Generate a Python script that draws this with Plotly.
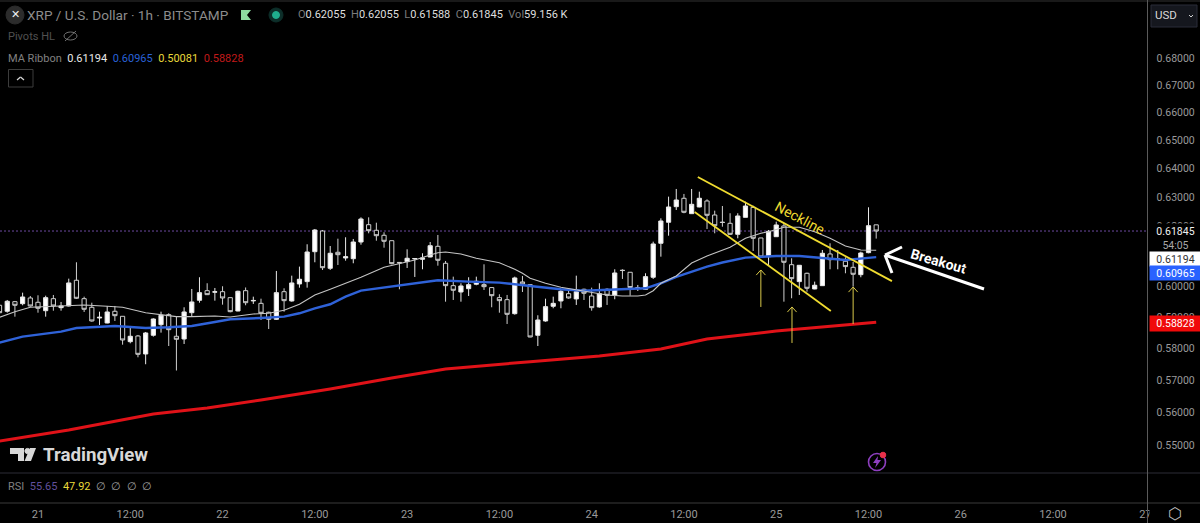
import plotly.graph_objects as go

W = 1200
H = 523

# hours since the 21st 00:00
hours = list(range(-5, 110))
opens = [
    .59378, .59183, .59495, .59430, .59616, .59475, .59202, .59593, .59300, .59355,
    .60198, .59593, .59313, .58966, .58804, .59183, .59020, .58205, .58387, .57813,
    .58409, .58750, .59073, .58377, .58291, .59137, .59541, .59855, .59805, .59822,
    .59626, .59192, .59855, .59520, .59441, .59150, .58923, .59822, .59518, .60076,
    .60153, .61148, .61846, .60594, .61128, .60938, .60914, .61474, .62060, .61870,
    .61701, .61518, .60790, .60815, .60905, .60894, .60971, .61329, .60761, .60020,
    .59812, .59921, .60066, .60053, .59957, .59626, .59561, .59105, .60142, .60053,
    .58409, .58869, .59345, .59518, .59757, .59584, .59901, .59681, .59323, .59901,
    .59714, .60530, .60462, .59938, .59901, .60297, .61431, .62142, .62676, .62965,
    .62436, .62666, .62872, .62391, .62147, .62107, .61734, .62311, .62655, .61610,
    .60981, .61653, .62016, .60714, .60153, .60429, .59911, .60020, .61072, .60890,
    .60828, .60627, .60383, .61115, .62055,
]
highs = [
    .59421, .59551, .59518, .59790, .59681, .59704, .59691, .59714, .59486, .60251,
    .60794, .59659, .59462, .59170, .59355, .59355, .59020, .58708, .58419, .58515,
    .58955, .59170, .59118, .59008, .59313, .59911, .60297, .60099, .59944, .60000,
    .59626, .59855, .59960, .59659, .59593, .59170, .60505, .59933, .60350, .60650,
    .61397, .61914, .61880, .61339, .61586, .61633, .61576, .62311, .62311, .62128,
    .61802, .61518, .60794, .61228, .60930, .61095, .61474, .61711, .60838, .60317,
    .60099, .60297, .60317, .60727, .59957, .59737, .59714, .60317, .60340, .60053,
    .59053, .59593, .59659, .59901, .59901, .60350, .59921, .59954, .60099, .59934,
    .60561, .60561, .60462, .60043, .60429, .61485, .62277, .63022, .63287, .63115,
    .63287, .63194, .62930, .62539, .62699, .62450, .62450, .62848, .62710, .61610,
    .61880, .62163, .62107, .60928, .60704, .60449, .60153, .61205, .61431, .61205,
    .60961, .60804, .61148, .62655, .62055,
]
lows = [
    .59095, .59137, .59008, .59378, .59333, .59137, .59008, .59202, .59202, .59340,
    .59584, .59160, .58846, .58740, .58794, .58869, .58109, .58153, .57708, .57489,
    .58366, .58494, .58067, .57292, .58131, .59008, .59462, .59714, .59528, .59398,
    .59150, .59182, .59378, .59421, .58901, .58611, .58901, .59170, .59495, .59954,
    .59954, .60794, .60538, .60538, .60704, .60848, .60761, .61383, .61768, .61518,
    .61282, .60727, .59901, .60604, .60307, .60561, .60961, .60681, .59495, .59551,
    .59495, .59681, .60033, .59878, .59313, .59137, .58772, .59073, .59812, .58345,
    .58067, .58846, .59280, .59280, .59593, .59388, .59551, .59202, .59300, .59388,
    .59574, .60241, .59691, .59845, .59878, .60241, .60981, .61687, .62563, .62450,
    .62436, .62655, .61914, .61768, .61992, .61711, .61599, .62311, .61171, .60948,
    .60704, .61653, .59495, .59606, .59714, .59822, .59901, .60010, .60561, .60561,
    .60429, .59987, .60297, .61095, .61588,
]
closes = [
    .59137, .59508, .59378, .59649, .59355, .59280, .59626, .59355, .59355, .60109,
    .59606, .59248, .58869, .58988, .59160, .59040, .58259, .58377, .57803, .58483,
    .58933, .59053, .58589, .58281, .59160, .59486, .59790, .59724, .59820, .59616,
    .59170, .59835, .59462, .59535, .59118, .58923, .59790, .59528, .60109, .60231,
    .61138, .61880, .60614, .61095, .61048, .60981, .61474, .62254, .61856, .61687,
    .61498, .60748, .60775, .60928, .60920, .60938, .61349, .60861, .60020, .59868,
    .60010, .60053, .60165, .59987, .59691, .59528, .59085, .60274, .60076, .58355,
    .58901, .59333, .59441, .59835, .59616, .59822, .59770, .59300, .59757, .59704,
    .60439, .60520, .59957, .59950, .60317, .61407, .62186, .62666, .62906, .62484,
    .62757, .62965, .62381, .62026, .62135, .61734, .62357, .62699, .61599, .60971,
    .61836, .62050, .60794, .60251, .60694, .59934, .60033, .61095, .60881, .60905,
    .60650, .60396, .61105, .62026, .61845,
]

white_h = [-5, -3, -1, 0, 3, 6, 9, 11, 14, 16, 18, 20, 23, 25, 28, 30, 32, 34, 36, 38, 40, 42, 45, 47, 49, 51, 52, 53,
           55, 57, 60, 62, 63, 64, 66, 68, 70, 72, 74, 76, 78, 79, 80, 81, 83, 85, 87, 90, 92, 94, 95, 97, 99, 101,
           103, 105, 107, 109]
white_ma = [.58988, .59170, .59313, .59323, .59355, .59388, .59345, .59313, .59137, .59063, .59008, .59008, .59030,
            .58998, .59095, .59118, .59215, .59411, .59714, .59901, .60099, .60297, .60627, .60761, .60871, .61038,
            .61115, .61138, .61072, .60928, .60781, .60561, .60429, .60264, .60099, .59967, .59878, .59790, .59714,
            .59681, .59681, .59714, .59855, .60099, .60340, .60771, .61005, .61296, .61599, .61768, .61822, .61972,
            .61972, .61822, .61599, .61339, .61205, .61194]
blue_h = [-5, -2, 3, 5, 10, 14, 17, 20, 23, 25, 29, 32, 34, 36, 38, 40, 42, 45, 49, 52, 56, 60, 64, 68, 71, 75, 79,
          81, 83, 87, 89, 92, 96, 99, 102, 105, 109]
blue_ma = [.58172, .58366, .58526, .58643, .58708, .58643, .58665, .58708, .58837, .58923, .58966, .59008, .59118,
           .59280, .59411, .59659, .59855, .59954, .60076, .60198, .60153, .60120, .60010, .59901, .59855, .59901,
           .59934, .60099, .60307, .60650, .60787, .60948, .61005, .61005, .60928, .60871, .60965]
red_h = [-5, 4, 15, 22, 29, 38, 46, 53, 64, 73, 81, 87, 96, 109]
red_ma = [.55121, .55454, .55943, .56127, .56374, .56714, .57058, .57340, .57571, .57752, .57972, .58292, .58545,
          .58828]

last_price = 0.61845
price_ticks = [.55, .56, .57, .58, .59, .60, .62, .63, .64, .65, .66, .67, .68]
time_ticks = [0, 12, 24, 36, 48, 60, 72, 84, 96, 108, 120, 132, 144]
time_labels = ["21", "12:00", "22", "12:00", "23", "12:00", "24", "12:00", "25", "12:00", "26", "12:00", "27"]

# hand drawn lines on the chart, in hours and price
neck_h = [85.8, 111.05]
neck_p = [.63706, .60170]
lower_h = [85.4, 103.1]
lower_p = [.62494, .59191]
arrow_h = [94.0, 98.05, 106.0]
arrow_low = [.59323, .58163, .58772]
arrow_tip = [.60538, .59323, .59976]

BG = "#000000"
GREY = "#9a9a9a"
FONT = "Roboto"


def px(x):
    return x / W


def py(y):
    return (H - y) / H


fig = go.Figure()

fig.add_trace(go.Scatter(x=red_h, y=red_ma, mode="lines", line=dict(color="#e01218", width=3)))
fig.add_trace(go.Scatter(x=blue_h, y=blue_ma, mode="lines", line=dict(color="#2f62d8", width=2.4)))
fig.add_trace(go.Scatter(x=white_h, y=white_ma, mode="lines", line=dict(color="#c4c4c4", width=1.1)))

fig.add_trace(go.Candlestick(
    x=hours, open=opens, high=highs, low=lows, close=closes, whiskerwidth=0,
    increasing=dict(line=dict(color="#e8e8e8", width=1), fillcolor="#ffffff"),
    decreasing=dict(line=dict(color="#d0d0d0", width=1), fillcolor="#000000"),
))

# trend channel
for xs, ys in ((neck_h, neck_p), (lower_h, lower_p)):
    fig.add_trace(go.Scatter(x=xs, y=ys, mode="lines", line=dict(color="#f0dc30", width=1.8)))

# the three thin arrows under the channel
ax, ay = [], []
for h, lo, tip in zip(arrow_h, arrow_low, arrow_tip):
    ax += [h, h, None, h - 0.6, h, h + 0.6, None]
    ay += [lo, tip, None, tip * 0.9972, tip, tip * 0.9972, None]
fig.add_trace(go.Scatter(x=ax, y=ay, mode="lines", line=dict(color="#d8c84a", width=1)))

shapes = []


def hline(y, color, x0=0, x1=W):
    shapes.append(dict(type="line", xref="paper", yref="paper", x0=px(x0), x1=px(x1), y0=py(y), y1=py(y),
                       line=dict(color=color, width=1), layer="above"))


def vline(x, color, y0=0, y1=H):
    shapes.append(dict(type="line", xref="paper", yref="paper", x0=px(x), x1=px(x), y0=py(y0), y1=py(y1),
                       line=dict(color=color, width=1), layer="above"))


def seg(x0, y0, x1, y1, color, width):
    shapes.append(dict(type="line", xref="paper", yref="paper", x0=px(x0), x1=px(x1), y0=py(y0), y1=py(y1),
                       line=dict(color=color, width=width), layer="above"))


def circle(cx, cy, r, fill, edge=None, width=1):
    shapes.append(dict(type="circle", xref="paper", yref="paper", x0=px(cx - r), x1=px(cx + r),
                       y0=py(cy - r), y1=py(cy + r), fillcolor=fill,
                       line=dict(color=edge or fill, width=width), layer="above"))


def poly(points, fill):
    d = "M" + " L".join(f"{px(a):.5f},{py(b):.5f}" for a, b in points) + " Z"
    shapes.append(dict(type="path", xref="paper", yref="paper", path=d, fillcolor=fill,
                       line=dict(color=fill, width=0), layer="above"))


shapes.append(dict(type="line", xref="paper", yref="y", x0=0, x1=px(1147), y0=last_price, y1=last_price,
                   line=dict(color="#6d4aa0", width=1, dash="2px,2px"), layer="below"))

hline(1, "#333333")
hline(473, "#2c2c36")
hline(503, "#3a3a3a")
vline(1147.5, "#5a5a5a")

# Breakout arrow
seg(984, 289, 885, 255, "#ffffff", 3)
seg(902, 247, 885, 255, "#ffffff", 3)
seg(892, 273, 885, 255, "#ffffff", 3)

# title row icons
circle(15, 15, 9, "#2c2c2c")
poly([(241, 10), (251, 10), (247, 15), (251, 20), (241, 20)], "#8edba0")
circle(276, 15, 7, "#0d2f2a")
circle(276, 15, 3.5, "#1fae8e")

# eye with a slash
shapes.append(dict(type="circle", xref="paper", yref="paper", x0=px(64), x1=px(77), y0=py(32), y1=py(40),
                   line=dict(color="#707070", width=1), layer="above"))
seg(65, 41, 76, 31, "#707070", 1)

# collapse button
shapes.append(dict(type="rect", xref="paper", yref="paper", x0=px(8.5), x1=px(33), y0=py(69.5), y1=py(87),
                   line=dict(color="#3c3c3c", width=1), layer="above"))
seg(17, 80, 20.5, 77, "#d8d8d8", 1.2)
seg(24, 80, 20.5, 77, "#d8d8d8", 1.2)

# currency button
shapes.append(dict(type="rect", xref="paper", yref="paper", x0=px(1151), x1=px(1197), y0=py(5), y1=py(27),
                   fillcolor="#15171e", line=dict(color="#2a2d38", width=1), layer="above"))
seg(1189, 15, 1191, 17, "#d0d0d0", 1)
seg(1193, 15, 1191, 17, "#d0d0d0", 1)

# TradingView logo
poly([(10, 448), (24, 448), (24, 461), (18, 461), (18, 454), (10, 454)], "#d8d8d8")
circle(27.5, 451, 2.6, "#d8d8d8")
poly([(30, 448), (36, 448), (31, 461), (24.5, 461)], "#d8d8d8")

# alert icon
circle(877, 462, 8.5, "#000000", "#8e3fc0", 1.6)
poly([(878, 456), (873, 463), (876.5, 463), (875, 468), (881, 460), (877.5, 460)], "#8e3fc0")
circle(883, 455, 2.8, "#e8304a")

annotations = []


def label(x, y, text, color=GREY, size=12, anchor="left", **kw):
    annotations.append(dict(xref="paper", yref="paper", x=px(x), y=py(y), text=text, showarrow=False,
                            xanchor=anchor, yanchor="middle", font=dict(family=FONT, size=size, color=color),
                            **kw))


def tag(y, text, bg, color, height=14):
    label(1148.5, y, text, color=color, size=10.5, bgcolor=bg, width=51, height=height, align="center",
          borderpad=0)


def c(color, text):
    return f'<span style="color:{color}">{text}</span>'


label(15, 15, "✕", color="#f0f0f0", size=11, anchor="center")
label(25, 15, "XRP / U.S. Dollar · 1h · BITSTAMP", color="#8c8c8c", size=13.6)
num = "#dedede"
label(296, 15, "O" + c(num, "0.62055") + "  H" + c(num, "0.62055") + "  L" + c(num, "0.61588") + "  C"
      + c(num, "0.61845") + "  Vol" + c(num, "59.156 K"), color="#7c7c7c", size=11)
label(6, 36, "Pivots HL", color="#505050", size=11)
label(6, 58, "MA Ribbon  " + c("#e8e8e8", "0.61194") + "  " + c("#2962d8", "0.60965") + "  "
      + c("#e8d83a", "0.50081") + "  " + c("#c01a1a", "0.58828"), color="#808080", size=11)
label(41, 455, "<b>TradingView</b>", color="#d8d8d8", size=18.7)
label(6, 487, "RSI  " + c("#62509c", "55.65") + "  " + c("#e8d83a", "47.92") + "  " + c("#a0a0a0", "∅  ∅  ∅  ∅"),
      color="#808080", size=11)
label(800, 218, "Neckline", color="#f0dc30", size=14, anchor="center", textangle=28)
label(938, 261, "<b>Breakout</b>", color="#ffffff", size=14, anchor="center", textangle=16)

# price axis tags sit on top of the tick labels
tag(231, "0.61845", BG, "#f0f0f0")
tag(245, "54:05", BG, "#a8a8a8")
tag(259, "0.61194", "#ffffff", "#333333")
tag(273, "0.60965", "#2962ff", "#ffffff")
tag(323, "0.58828", "#f00a0a", "#ffffff", height=15)
label(1148.5, 513.5, " ", bgcolor=BG, width=51, height=18, borderpad=0)
label(1175, 513.5, "⬡", color="#c0c0c0", size=16, anchor="center")
label(1153, 15, "USD", color="#d8d8d8", size=11.5)

fig.update_layout(
    width=W, height=H, margin=dict(l=0, r=0, t=0, b=0), showlegend=False, boxgap=0.22,
    paper_bgcolor=BG, plot_bgcolor=BG, font=dict(family=FONT, color=GREY, size=11),
    shapes=shapes, annotations=annotations,
    xaxis=dict(domain=[0, 1147.5 / W], range=[-4.94, 144.28], showgrid=False, zeroline=False, anchor="free",
               position=py(503), tickmode="array", tickvals=time_ticks, ticktext=time_labels, ticks="outside",
               ticklen=1, tickcolor=BG, rangeslider=dict(visible=False), tickfont=dict(size=11, color=GREY),
               automargin=False),
    yaxis=dict(domain=[py(473), py(0)], type="log", side="right", showgrid=False, zeroline=False,
               range=[-0.26631, -0.15369], tickmode="array", tickvals=price_ticks, tickformat=".5f",
               ticks="outside", ticklen=6, tickcolor=BG, tickfont=dict(size=10.5, color=GREY),
               automargin=False),
)

fig.write_html("out.html", config={"displayModeBar": False},
               post_script="document.body.style.margin='0';document.body.style.overflow='hidden';")
